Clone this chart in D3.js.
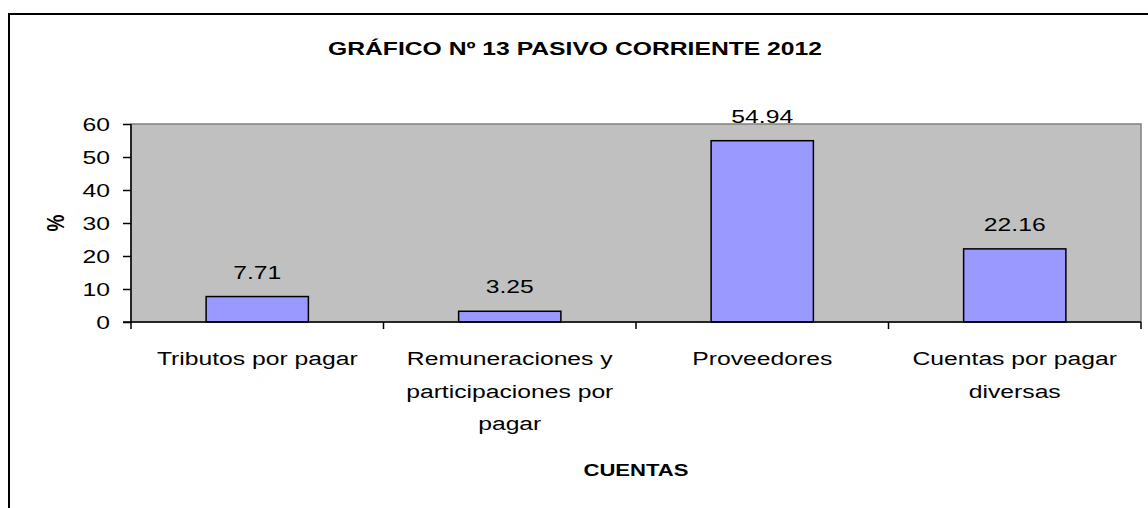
<!DOCTYPE html>
<html>
<head>
<meta charset="utf-8">
<script src="https://cdnjs.cloudflare.com/ajax/libs/d3/7.8.5/d3.min.js"></script>
<style>
  body { margin: 0; background: #fff; }
  text { font-family: "Liberation Sans", Arial, sans-serif; }
</style>
</head>
<body>
<div id="chart"></div>
<script>
// data
var categories = [
  ["Tributos por pagar"],
  ["Remuneraciones y", "participaciones por", "pagar"],
  ["Proveedores"],
  ["Cuentas por pagar", "diversas"]
];
var values = [7.71, 3.25, 54.94, 22.16];
var yTicks = [0, 10, 20, 30, 40, 50, 60];
var title = "GRÁFICO Nº 13 PASIVO CORRIENTE 2012";
var xTitle = "CUENTAS";
var yTitle = "%";

var width = 1148, height = 508;
var m = {left: 131, right: 7, top: 124, bottom: 186};
var pw = width - m.left - m.right, ph = height - m.top - m.bottom;
var sx = 1.3; // the source picture has horizontally stretched text

var svg = d3.select("#chart").append("svg")
  .attr("width", width)
  .attr("height", height);

// outer frame (runs off the right and bottom edges)
svg.append("rect")
  .attr("x", 9).attr("y", 14)
  .attr("width", width + 20).attr("height", height + 20)
  .attr("fill", "#fff").attr("stroke", "#000").attr("stroke-width", 2);

var x = d3.scaleBand().domain(d3.range(values.length)).range([0, pw]);
var y = d3.scaleLinear().domain([0, 60]).range([ph, 0]);

function label(sel, px, py, s, size, anchor, bold) {
  return sel.append("text")
    .attr("transform", "translate(" + px + "," + py + ") scale(" + sx + ",1)")
    .attr("text-anchor", anchor || "middle")
    .style("font-size", size + "px")
    .style("font-weight", bold ? "bold" : "normal")
    .text(s);
}

var g = svg.append("g").attr("transform", "translate(" + m.left + "," + m.top + ")");

// plot area
g.append("rect")
  .attr("width", pw).attr("height", ph)
  .attr("fill", "#c0c0c0").attr("stroke", "#808080").attr("stroke-width", 1.5);

// bars
var bw = x.bandwidth() * 0.405;
g.selectAll(".bar").data(values).enter().append("rect")
  .attr("class", "bar")
  .attr("x", function(d, i){ return x(i) + (x.bandwidth() - bw) / 2; })
  .attr("y", function(d){ return y(d); })
  .attr("width", bw)
  .attr("height", function(d){ return ph - y(d); })
  .attr("fill", "#9999ff").attr("stroke", "#000").attr("stroke-width", 1.5);

// value labels
values.forEach(function(d, i){
  label(g, x(i) + x.bandwidth() / 2, y(d) - 18, d.toFixed(2), 19);
});

// y axis
var yAxis = g.append("g").call(d3.axisLeft(y).tickValues(yTicks).tickSize(8).tickFormat(""));
yAxis.selectAll("line, path").attr("stroke", "#000").attr("stroke-width", 1.5);
yAxis.select(".domain").attr("d", "M0," + (ph + 7) + "V0");
yTicks.forEach(function(t){
  label(g, -21, y(t) + 7, String(t), 19, "end");
});

// x axis line and separators
var xg = g.append("g").attr("transform", "translate(0," + ph + ")");
xg.append("line").attr("x1", -8).attr("x2", pw).attr("stroke", "#000").attr("stroke-width", 1.5);
xg.selectAll(".sep").data(d3.range(1, values.length + 1)).enter().append("line")
  .attr("x1", function(i){ return i < values.length ? x(i) : pw; })
  .attr("x2", function(i){ return i < values.length ? x(i) : pw; })
  .attr("y1", 0).attr("y2", 7)
  .attr("stroke", "#000").attr("stroke-width", 1.5);

// category labels
categories.forEach(function(lines, i){
  lines.forEach(function(s, k){
    label(xg, x(i) + x.bandwidth() / 2, 43 + k * 32.5, s, 19);
  });
});

// titles
label(svg, 575, 55, title, 19, "middle", true);
label(svg, m.left + pw / 2, 476, xTitle, 17, "middle", true);

svg.append("text")
  .attr("transform", "translate(64," + (m.top + ph / 2) + ") rotate(-90) scale(1," + sx + ")")
  .attr("text-anchor", "middle")
  .style("font-size", "19px").style("font-weight", "bold")
  .text(yTitle);
</script>
</body>
</html>
